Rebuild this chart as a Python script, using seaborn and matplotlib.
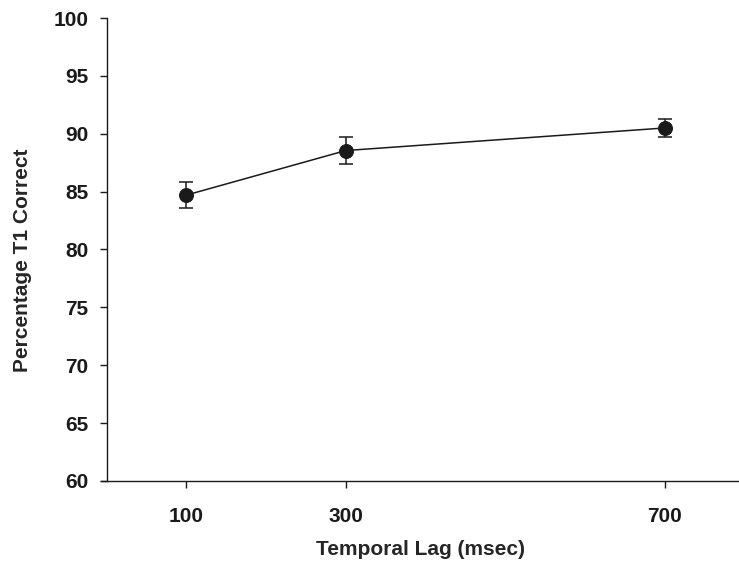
import matplotlib
matplotlib.use("Agg")
import matplotlib.pyplot as plt
import seaborn as sns
import pandas as pd

lag = [100, 300, 700]
pct_correct = [84.7, 88.55, 90.5]
sem = [1.14, 1.13, 0.76]

df = pd.DataFrame({"lag": lag, "pct": pct_correct, "sem": sem})

sns.set_style("ticks")
plt.rcParams['font.family'] = ['Liberation Sans', 'DejaVu Sans']
plt.rcParams['font.weight'] = 'bold'

fig = plt.figure(figsize=(7.39, 5.67), dpi=100)
ax = fig.add_axes([101 / 739, 86 / 567, 638 / 739, 463 / 567])

ax.errorbar(df["lag"], df["pct"], yerr=df["sem"], fmt="none", ecolor="#1a1a1a",
            elinewidth=1.1, capsize=5, capthick=1.1, zorder=2)
sns.lineplot(data=df, x="lag", y="pct", ax=ax, color="#1a1a1a", linewidth=1.1,
             marker="o", markersize=10, markeredgecolor="#1a1a1a", zorder=3)

ax.set_xlim(-7, 793)
ax.set_ylim(60, 100)
ax.set_xticks(lag)
ax.set_yticks(range(60, 101, 5))
ax.spines["left"].set_position(("data", 0))
ax.spines["top"].set_visible(False)
ax.spines["right"].set_visible(False)
for s in ["left", "bottom"]:
    ax.spines[s].set_linewidth(1.0)
    ax.spines[s].set_color("#1a1a1a")
ax.tick_params(axis="both", direction="out", length=5, width=1.0, colors="#1a1a1a",
               labelsize=15, pad=8)
ax.tick_params(axis="x", pad=14)
for lbl in ax.get_xticklabels() + ax.get_yticklabels():
    lbl.set_fontweight("bold")

ax.set_xlabel("Temporal Lag (msec)", fontsize=15, fontweight="bold", labelpad=10)
ax.set_ylabel("Percentage T1 Correct", fontsize=15, fontweight="bold")
ax.yaxis.set_label_coords(-0.108, 0.477)

fig.savefig("out.png", dpi=100)
